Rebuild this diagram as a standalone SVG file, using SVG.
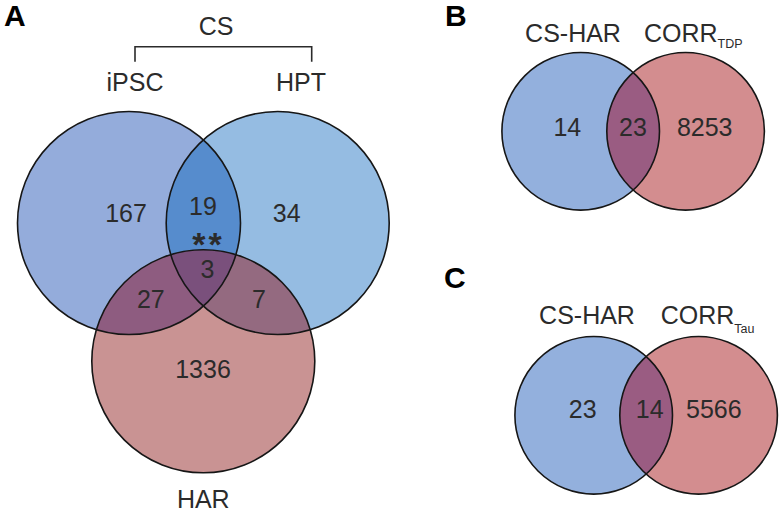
<svg xmlns="http://www.w3.org/2000/svg" width="780" height="511" viewBox="0 0 780 511">
<style>
text{font-family:"Liberation Sans",Arial,sans-serif;fill:#2b2b2b}
.num{font-size:25px;text-anchor:middle}
.lbl{font-size:25px;text-anchor:middle}
.sub{font-size:12.5px}
.panel{font-size:30px;font-weight:bold;fill:#000}
.ring{fill:none;stroke:#161616;stroke-width:1.6}
.conn{fill:none;stroke:#2b2b2b;stroke-width:1.6}
</style>
<defs>
<clipPath id="cL"><circle cx="129" cy="223" r="111.5"/></clipPath>
<clipPath id="cR"><circle cx="277.7" cy="223" r="111.5"/></clipPath>
<clipPath id="cBL"><circle cx="580.7" cy="131.3" r="78.8"/></clipPath>
<clipPath id="cCL"><circle cx="593.7" cy="415.3" r="78.8"/></clipPath>
</defs>
<rect width="780" height="511" fill="#fff"/>

<text class="panel" x="4" y="26">A</text>
<text class="panel" x="445" y="26">B</text>
<text class="panel" x="444" y="288">C</text>

<g id="connectors">
<path class="conn" d="M135,61.7 V46.7 H311.7 V61.7"/>
</g>

<g id="cs-label"><text class="lbl" x="216" y="35">CS</text></g>

<g id="ipsc">
<circle cx="129" cy="223" r="111.5" fill="#94acdb"/>
</g>
<g id="hpt">
<circle cx="277.7" cy="223" r="111.5" fill="#95bce2"/>
</g>
<g id="har">
<circle cx="203.3" cy="361.3" r="111.5" fill="#c99393"/>
</g>
<g id="overlaps-a">
<circle cx="277.7" cy="223" r="111.5" fill="#568ccd" clip-path="url(#cL)"/>
<circle cx="203.3" cy="361.3" r="111.5" fill="#8e5c80" clip-path="url(#cL)"/>
<circle cx="203.3" cy="361.3" r="111.5" fill="#946a80" clip-path="url(#cR)"/>
<g clip-path="url(#cL)"><circle cx="203.3" cy="361.3" r="111.5" fill="#7a507c" clip-path="url(#cR)"/></g>
<circle class="ring" cx="129" cy="223" r="111.5"/>
<circle class="ring" cx="277.7" cy="223" r="111.5"/>
<circle class="ring" cx="203.3" cy="361.3" r="111.5"/>
</g>
<g id="labels-a">
<text class="lbl" x="135" y="90.7">iPSC</text>
<text class="lbl" x="301" y="90.7">HPT</text>
<text class="lbl" x="203.3" y="507.5">HAR</text>
<text class="num" x="126" y="222">167</text>
<text class="num" x="203" y="215">19</text>
<text class="num" x="286.7" y="221.7">34</text>
<text class="num" x="208.5" y="256" style="font-size:34px;font-weight:bold;letter-spacing:3px">**</text>
<text class="num" x="207.5" y="278">3</text>
<text class="num" x="150.8" y="308">27</text>
<text class="num" x="259" y="308">7</text>
<text class="num" x="203" y="377.5">1336</text>
</g>

<g id="cs-har-b">
<circle cx="580.7" cy="131.3" r="78.8" fill="#93b0dd"/>
</g>
<g id="corr-tdp">
<circle cx="685.6" cy="131.3" r="78.8" fill="#d38d8f"/>
<circle cx="685.6" cy="131.3" r="78.8" fill="#9a5c82" clip-path="url(#cBL)"/>
<circle class="ring" cx="580.7" cy="131.3" r="78.8"/>
<circle class="ring" cx="685.6" cy="131.3" r="78.8"/>
</g>
<g id="labels-b">
<text class="lbl" x="573" y="41.7">CS-HAR</text>
<text x="644" y="41.7" style="font-size:25px">CORR<tspan class="sub" dy="6.3">TDP</tspan></text>
<text class="num" x="567.3" y="135.5">14</text>
<text class="num" x="633" y="135.5">23</text>
<text class="num" x="704.7" y="135.5">8253</text>
</g>

<g id="cs-har-c">
<circle cx="593.7" cy="415.3" r="78.8" fill="#93b0dd"/>
</g>
<g id="corr-tau">
<circle cx="698.6" cy="415.3" r="78.8" fill="#d38d8f"/>
<circle cx="698.6" cy="415.3" r="78.8" fill="#9a5c82" clip-path="url(#cCL)"/>
<circle class="ring" cx="593.7" cy="415.3" r="78.8"/>
<circle class="ring" cx="698.6" cy="415.3" r="78.8"/>
</g>
<g id="labels-c">
<text class="lbl" x="587" y="324.3">CS-HAR</text>
<text x="660.7" y="324.3" style="font-size:25px">CORR<tspan class="sub" dy="8.7">Tau</tspan></text>
<text class="num" x="582.7" y="418.3">23</text>
<text class="num" x="649.7" y="418.3">14</text>
<text class="num" x="713.8" y="418.3">5566</text>
</g>
</svg>
